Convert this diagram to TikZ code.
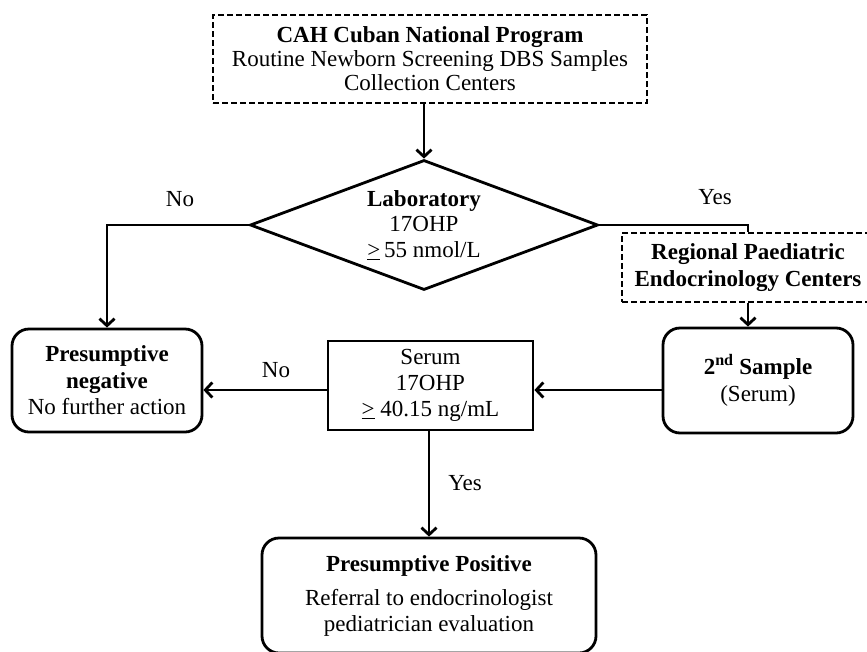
\documentclass[tikz,border=0pt]{standalone}
\usepackage{fontspec}
\setmainfont{Liberation Serif}
\usetikzlibrary{shapes.geometric,arrows.meta,calc}
\tikzset{
  base/.style={draw=black, line width=2.8pt, align=center, inner sep=2pt,
    font=\fontsize{23}{26}\selectfont},
  dbox/.style={base, dash pattern=on 6pt off 3pt, line width=2.8pt},
  rbox/.style={base, rounded corners=17pt},
  sbox/.style={base},
  dia/.style={base, diamond, inner sep=0pt, aspect=2.68},
  conn/.style={line width=2.8pt, -{Straight Barb[length=7pt,width=15pt,line width=2.8pt]}},
  plain/.style={line width=2.8pt},
  lab/.style={font=\fontsize{23}{26}\selectfont}
}
\begin{document}
\begin{tikzpicture}[x=1pt,y=-1pt]
\useasboundingbox (0,0) rectangle (867,651);
\clip (0,0) rectangle (867,651);
\node[dbox, minimum width=434pt, minimum height=88pt, font=\fontsize{23}{24}\selectfont] (top) at (430,59)
  {\textbf{CAH Cuban National Program}\\Routine Newborn Screening DBS Samples\\Collection Centers};
\node[dia, minimum width=348pt, minimum height=130pt, font=\fontsize{23}{25.5}\selectfont] (dia) at (424,225)
  {\textbf{Laboratory}\\17OHP\\\underline{>}\,55 nmol/L};
\node[dbox, minimum width=252pt, minimum height=69pt, font=\fontsize{23}{27}\selectfont] (reg) at (748,267.5)
  {\textbf{Regional Paediatric}\\\textbf{Endocrinology Centers}};
\node[rbox, minimum width=190pt, minimum height=105pt, font=\fontsize{23}{27}\selectfont] (sec) at (758,380.5)
  {\textbf{2\textsuperscript{nd} Sample}\\(Serum)};
\node[sbox, minimum width=205pt, minimum height=89pt] (ser) at (430.5,385.5)
  {Serum\\17OHP\\\underline{>} 40.15 ng/mL};
\node[rbox, minimum width=190pt, minimum height=103pt, font=\fontsize{23}{26.5}\selectfont] (neg) at (107,380.5)
  {\textbf{Presumptive}\\\textbf{negative}\\No further action};
\node[rbox, minimum width=334pt, minimum height=115pt] (pos) at (429,595.5)
  {\textbf{Presumptive Positive}\\[8pt]Referral to endocrinologist\\pediatrician evaluation};
\coordinate (yc) at (748,240);
\coordinate (hy) at (0,390);
\draw[conn] (top.south -| dia.north) -- (dia.north);
\draw[conn] (dia.west) -| (neg.north);
\draw[plain] (dia.east) -| (reg.north -| yc);
\draw[conn] (reg.south -| yc) -- (sec.north -| yc);
\draw[conn] (sec.west |- hy) -- (ser.east |- hy);
\draw[conn] (ser.west |- hy) -- (neg.east |- hy);
\draw[conn] (ser.south -| pos.north) -- (pos.north);
\node[lab] (lno1) at (180,199) {No};
\node[lab] (lyes1) at (715,197) {Yes};
\node[lab] (lno2) at (276,370) {No};
\node[lab] (lyes2) at (465,483) {Yes};
\end{tikzpicture}
\end{document}
